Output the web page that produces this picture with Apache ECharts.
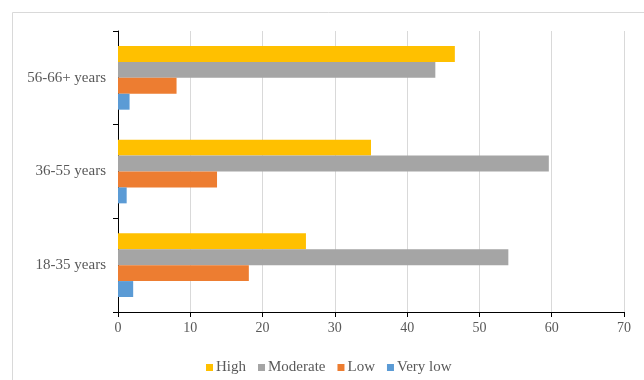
<!DOCTYPE html>
<html>
<head>
<meta charset="utf-8">
<script src="https://cdn.jsdelivr.net/npm/echarts@6/dist/echarts.min.js"></script>
<style>
html,body{margin:0;padding:0;background:#fff;}
#c{width:644px;height:380px;}
</style>
</head>
<body>
<div id="c"></div>
<script>
var categories = ['18-35 years', '36-55 years', '56-66+ years'];
var seriesNames = ['High', 'Moderate', 'Low', 'Very low'];
var highValues = [26.0, 35.0, 46.6];
var moderateValues = [54.0, 59.6, 43.9];
var lowValues = [18.1, 13.7, 8.1];
var veryLowValues = [2.1, 1.2, 1.6];
var xTicks = [0, 10, 20, 30, 40, 50, 60, 70];

var colors = {
  'High': '#FFC000',
  'Moderate': '#A5A5A5',
  'Low': '#ED7D31',
  'Very low': '#5B9BD5'
};
var valuesByName = {
  'High': highValues,
  'Moderate': moderateValues,
  'Low': lowValues,
  'Very low': veryLowValues
};

var font = '"Liberation Serif", "Times New Roman", serif';
var chart = echarts.init(document.getElementById('c'), null, {renderer: 'canvas'});

var series = seriesNames.map(function (name) {
  return {
    name: name,
    type: 'bar',
    data: valuesByName[name],
    barGap: '0%',
    barCategoryGap: '32%',
    itemStyle: {color: colors[name]},
    emphasis: {disabled: true}
  };
});

chart.setOption({
  animation: false,
  backgroundColor: '#ffffff',
  graphic: [{
    type: 'rect',
    shape: {x: 12.5, y: 12.5, width: 700, height: 420},
    style: {fill: 'none', stroke: '#D9D9D9', lineWidth: 1},
    silent: true,
    z: -10
  }],
  grid: {left: 118, right: 20, top: 31, bottom: 68, containLabel: false},
  legend: {
    data: seriesNames.map(function (n) { return {name: n, icon: 'rect'}; }),
    left: 201,
    top: 355,
    itemWidth: 7,
    itemHeight: 7,
    itemGap: 12,
    textStyle: {fontFamily: font, fontSize: 15, color: '#595959', padding: [0, 0, 0, -2]}
  },
  xAxis: {
    type: 'value',
    min: xTicks[0],
    max: xTicks[xTicks.length - 1],
    interval: 10,
    axisLine: {show: true, lineStyle: {color: '#000000', width: 1}},
    axisTick: {show: true, length: 5, lineStyle: {color: '#000000'}},
    axisLabel: {fontFamily: font, fontSize: 14, color: '#595959', margin: 9},
    splitLine: {show: true, lineStyle: {color: '#D9D9D9', width: 1}}
  },
  yAxis: {
    type: 'category',
    data: categories,
    axisLine: {show: true, lineStyle: {color: '#000000', width: 1}},
    axisTick: {show: true, length: 5, lineStyle: {color: '#000000'}},
    axisLabel: {fontFamily: font, fontSize: 15, color: '#595959', margin: 12},
    splitLine: {show: false}
  },
  series: series
});
</script>
</body>
</html>
